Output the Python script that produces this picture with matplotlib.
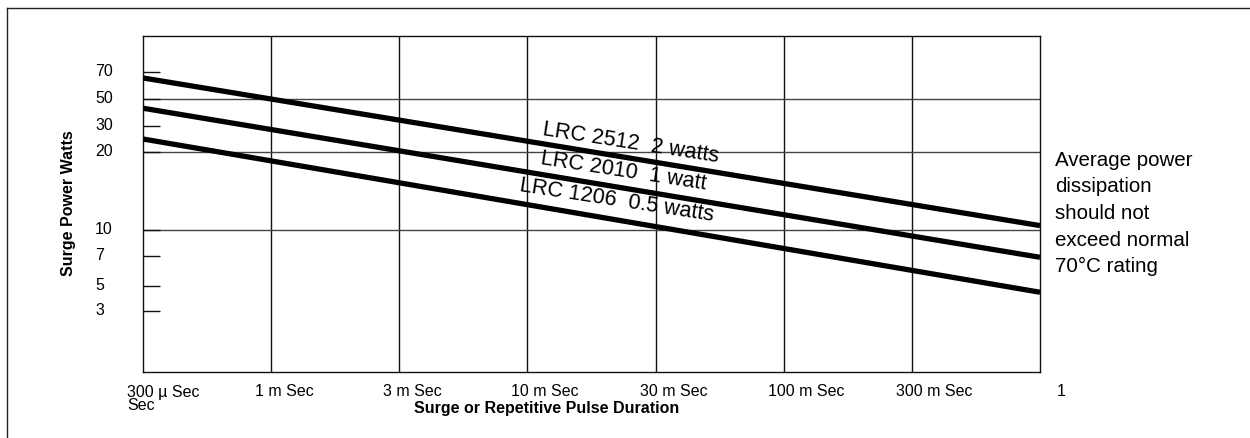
import numpy as np
import matplotlib
matplotlib.use("Agg")
import matplotlib.pyplot as plt
from matplotlib.lines import Line2D
from matplotlib.transforms import ScaledTranslation

plt.rcParams['font.family'] = ['Liberation Sans', 'DejaVu Sans']

# ---- data ----
durations = ["300 µ Sec\nSec", "1 m Sec", "3 m Sec", "10 m Sec", "30 m Sec",
             "100 m Sec", "300 m Sec", "1"]
y_ticks = [3, 5, 7, 10, 20, 30, 50, 70]
y_grid = [10, 20, 50]
series_names = ["LRC 2512  2 watts", "LRC 2010  1 watt", "LRC 1206  0.5 watts"]
series_start = [65.0, 42.0, 24.5]   # watts at 300 µs
series_end = [10.4, 6.9, 4.4]       # watts at 1 s

# ---- non-uniform hand-drawn power scale (layout of the original chart) ----
knot_u = (372 - np.array([311, 286, 256, 230, 152, 126, 99, 72])) / 336.0
knot_l = np.log10(np.array(y_ticks, dtype=float))

def fwd(v):
    x = np.log10(np.clip(np.asarray(v, dtype=float), 1e-9, None))
    r = np.interp(x, knot_l, knot_u)
    s0 = (knot_u[1] - knot_u[0]) / (knot_l[1] - knot_l[0])
    s1 = (knot_u[-1] - knot_u[-2]) / (knot_l[-1] - knot_l[-2])
    r = np.where(x < knot_l[0], knot_u[0] + (x - knot_l[0]) * s0, r)
    r = np.where(x > knot_l[-1], knot_u[-1] + (x - knot_l[-1]) * s1, r)
    return r

def inv(u):
    u = np.asarray(u, dtype=float)
    s0 = (knot_u[1] - knot_u[0]) / (knot_l[1] - knot_l[0])
    s1 = (knot_u[-1] - knot_u[-2]) / (knot_l[-1] - knot_l[-2])
    x = np.interp(u, knot_u, knot_l)
    x = np.where(u < knot_u[0], knot_l[0] + (u - knot_u[0]) / s0, x)
    x = np.where(u > knot_u[-1], knot_l[-1] + (u - knot_u[-1]) / s1, x)
    return 10 ** x

W, H = 1250, 438
fig = plt.figure(figsize=(W / 100, H / 100), dpi=100)
ax = fig.add_axes([143 / W, (H - 372) / H, 897 / W, 336 / H])
ax.set_yscale('function', functions=(fwd, inv))
ax.set_xlim(0, len(durations) - 1)
ax.set_ylim(float(inv(0.0)), float(inv(1.0)))

# grid
for i in range(1, len(durations) - 1):
    ax.axvline(i, color='#111111', lw=1.0, zorder=1)
for g in y_grid:
    ax.axhline(g, color='#444444', lw=1.0, zorder=1)

for sp in ax.spines.values():
    sp.set_linewidth(1.0)
    sp.set_color('#111111')

# series
xs = [0, len(durations) - 1]
for s0, s1 in zip(series_start, series_end):
    ax.plot(xs, [s0, s1], color='black', lw=3.8, solid_capstyle='butt', zorder=3)

# y ticks
ax.set_yticks(y_ticks)
ax.set_yticklabels([str(t) for t in y_ticks])
ax.yaxis.set_minor_locator(matplotlib.ticker.NullLocator())
ax.tick_params(axis='y', direction='in', length=12.5, width=1.0, color='#111111',
               pad=34.5, labelsize=11.5)
for lab in ax.get_yticklabels():
    lab.set_horizontalalignment('left')
    lab.set_transform(lab.get_transform() + ScaledTranslation(0, 2 / 100, fig.dpi_scale_trans))

# x ticks
ax.set_xticks(range(len(durations) - 1))
ax.set_xticklabels(durations[:-1])
ax.tick_params(axis='x', length=0, pad=9, labelsize=11.5)
for lab in ax.get_xticklabels():
    lab.set_horizontalalignment('left')
    lab.set_linespacing(0.85)
    lab.set_transform(lab.get_transform() + ScaledTranslation(-16 / 100, 0, fig.dpi_scale_trans))
ax.text(len(durations) - 1, 0, durations[-1], fontsize=11.5, ha='left', va='top',
        transform=ax.get_xaxis_transform() + ScaledTranslation(17 / 100, -9 / 72, fig.dpi_scale_trans))

# axis titles
ax.set_ylabel("Surge Power Watts", fontsize=11.5, fontweight='bold')
ax.yaxis.set_label_coords((76 - 143) / 897, (372 - 203) / 336)
fig.text(547 / W, 1 - 409 / H, "Surge or Repetitive Pulse Duration", fontsize=11.5,
         fontweight='bold', ha='center', va='center')

# series labels
label_pos = [(631, 143), (623, 171), (617, 201)]
for name, (px, py) in zip(series_names, label_pos):
    ax.text((px - 143) / 897, (372 - py) / 336, name, transform=ax.transAxes,
            fontsize=15.6, rotation=-8.8, rotation_mode='anchor', ha='center', va='center',
            zorder=4)

# side note
fig.text(1055 / W, 1 - 151 / H,
         "Average power\ndissipation\nshould not\nexceed normal\n70°C rating",
         fontsize=14.8, ha='left', va='top', linespacing=1.5)

# outer frame (top and left edges)
fig.add_artist(Line2D([7 / W, 7 / W], [0, 1 - 8 / H], transform=fig.transFigure,
                      color='#222222', lw=1.0))
fig.add_artist(Line2D([7 / W, 1], [1 - 8 / H, 1 - 8 / H], transform=fig.transFigure,
                      color='#222222', lw=1.0))

fig.savefig("out.png", dpi=100)
